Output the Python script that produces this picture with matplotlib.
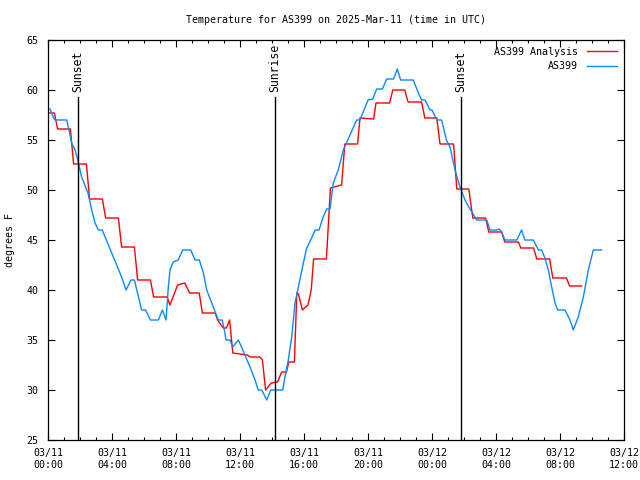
import datetime as dt
import matplotlib
matplotlib.use("Agg")
import matplotlib.pyplot as plt
import matplotlib.dates as mdates

title = "Temperature for AS399 on 2025-Mar-11 (time in UTC)"
ylabel = "degrees F"
start = dt.datetime(2025, 3, 11, 0, 0)
end = dt.datetime(2025, 3, 12, 12, 0)

# hours since 2025-03-11 00:00 UTC
analysis_hours = [0.1, 0.4, 0.6, 1.4, 1.6, 2.4, 2.6, 3.4, 3.6, 4.4, 4.6, 5.4, 5.6, 6.4, 6.6,
                  7.45, 7.62, 8.1, 8.55, 8.85, 9.45, 9.65, 10.45, 10.6, 10.95, 11.15, 11.35,
                  11.55, 12.45, 12.65, 13.25, 13.4, 13.6, 13.95, 14.35, 14.6, 14.9, 15.05,
                  15.4, 15.55, 15.65, 15.9, 16.25, 16.45, 16.6, 17.4, 17.55, 17.65, 18.35,
                  18.55, 19.35, 19.5, 20.35, 20.5, 21.35, 21.55, 22.3, 22.5, 23.35, 23.55,
                  24.3, 24.5, 25.35, 25.55, 26.3, 26.55, 27.35, 27.55, 28.35, 28.55, 29.4,
                  29.55, 30.35, 30.55, 31.35, 31.55, 32.4, 32.6, 33.35]
analysis_temp = [57.7, 57.7, 56.1, 56.1, 52.6, 52.6, 49.1, 49.1, 47.2, 47.2, 44.3, 44.3, 41.0,
                 41.0, 39.3, 39.3, 38.5, 40.5, 40.7, 39.7, 39.7, 37.7, 37.7, 37.0, 36.2, 36.2,
                 37.0, 33.7, 33.5, 33.3, 33.3, 33.0, 30.0, 30.7, 30.8, 31.8, 31.8, 32.8, 32.8,
                 39.7, 39.6, 38.0, 38.5, 40.0, 43.1, 43.1, 47.3, 50.2, 50.5, 54.6, 54.6, 57.2,
                 57.1, 58.7, 58.7, 60.0, 60.0, 58.8, 58.8, 57.2, 57.2, 54.6, 54.6, 50.1, 50.1,
                 47.2, 47.2, 45.8, 45.8, 44.8, 44.8, 44.2, 44.2, 43.1, 43.1, 41.2, 41.2, 40.4,
                 40.4]

obs_hours = [0.125, 0.33, 0.44, 1.17, 1.27, 1.48, 1.69, 1.83, 2.1, 2.5, 2.73, 2.94, 3.15, 3.39,
             3.98, 4.6, 4.875, 5.19, 5.4, 5.85, 6.1, 6.4, 6.9, 7.15, 7.375, 7.52, 7.625, 7.83,
             8.14, 8.42, 8.92, 9.19, 9.46, 9.71, 9.92, 10.33, 10.64, 10.89, 11.06, 11.125,
             11.375, 11.54, 11.9, 12.31, 12.625, 12.94, 13.14, 13.36, 13.67, 13.92, 14.67,
             14.81, 15.02, 15.23, 15.44, 15.65, 15.96, 16.17, 16.48, 16.69, 16.94, 17.2, 17.42,
             17.625, 17.83, 18.14, 18.46, 18.9, 19.29, 19.5, 20.0, 20.3, 20.54, 20.9, 21.17,
             21.6, 21.83, 22.04, 22.83, 23.15, 23.35, 23.56, 23.875, 24.0, 24.3, 24.6, 24.9,
             25.125, 25.44, 25.75, 26.06, 26.375, 26.79, 27.42, 27.625, 28.04, 28.2, 28.35,
             28.56, 29.3, 29.6, 29.8, 30.33, 30.65, 30.85, 31.06, 31.27, 31.48, 31.69, 31.85,
             32.31, 32.625, 32.83, 33.14, 33.46, 33.77, 34.08, 34.6]
obs_temp = [58.1, 57.3, 57.0, 57.0, 56.3, 54.7, 54.0, 53.2, 51.3, 49.7, 48.0, 46.7, 46.0, 46.0,
            43.7, 41.3, 40.0, 41.0, 41.0, 38.0, 38.0, 37.0, 37.0, 38.0, 37.0, 40.3, 42.0, 42.8,
            43.0, 44.0, 44.0, 43.0, 43.0, 41.7, 40.0, 38.3, 37.0, 37.0, 35.7, 35.0, 35.0, 34.3,
            35.0, 33.5, 32.3, 31.0, 30.0, 30.0, 29.0, 30.0, 30.0, 31.3, 33.0, 35.3, 38.7, 40.3,
            42.7, 44.2, 45.2, 46.0, 46.0, 47.3, 48.1, 48.1, 50.7, 52.0, 54.0, 55.6, 57.0, 57.0,
            59.0, 59.1, 60.1, 60.1, 61.1, 61.1, 62.1, 61.0, 61.0, 59.7, 59.0, 59.0, 58.0, 58.0,
            57.0, 57.0, 55.0, 54.3, 52.0, 50.3, 49.0, 48.1, 47.0, 47.0, 46.0, 46.0, 46.1, 45.8,
            45.0, 45.0, 46.0, 45.0, 45.0, 44.0, 44.0, 43.2, 42.0, 40.3, 38.7, 38.0, 38.0, 37.0,
            36.0, 37.3, 39.3, 42.0, 44.0, 44.0]

events = ["Sunset", "Sunrise", "Sunset"]
event_hours = [1.85, 14.2, 25.8]

def to_time(hours):
    return [start + dt.timedelta(hours=h) for h in hours]

plt.rcParams['font.family'] = ['DejaVu Sans Mono']
fs = 7.2

fig = plt.figure(figsize=(6.4, 4.8), dpi=100)
ax = fig.add_axes([48/640, 40/480, 576/640, 400/480])

ax.plot(to_time(analysis_hours), analysis_temp, color='#ff0000', lw=1.0, label='AS399 Analysis')
ax.plot(to_time(obs_hours), obs_temp, color='#0a88ff', lw=1.0, label='AS399')

for name, h in zip(events, event_hours):
    t = start + dt.timedelta(hours=h)
    ax.plot([t, t], [25, 59.3], color='black', lw=1.0)
    ax.text(t, 59.8, name, rotation=90, ha='center', va='bottom', fontsize=8.3)

ax.set_xlim(start, end)
ax.set_ylim(25, 65)
ax.set_yticks(range(25, 66, 5))
ax.xaxis.set_major_locator(mdates.HourLocator(byhour=range(0, 24, 4)))
ax.xaxis.set_minor_locator(mdates.HourLocator())
ax.xaxis.set_major_formatter(mdates.DateFormatter('%m/%d\n%H:%M'))
ax.tick_params(which='both', direction='in', top=True, right=True, labelsize=fs, width=0.8)
ax.tick_params(which='major', length=5)
ax.tick_params(which='minor', length=2.5)
ax.tick_params(axis='x', pad=6)
ax.tick_params(axis='y', pad=7)
for s in ax.spines.values():
    s.set_linewidth(0.9)

ax.set_title(title, fontsize=fs, pad=12)
ax.set_ylabel(ylabel, fontsize=fs)
ax.yaxis.set_label_coords(-0.057, 0.5)

leg = ax.legend(loc='upper right', frameon=False, fontsize=fs, markerfirst=False,
                handlelength=3.0, handletextpad=0.9, labelspacing=0.45,
                borderaxespad=0.3)
for t in leg.get_texts():
    t.set_ha('right')
leg._legend_box.align = 'right'

fig.savefig('out.png', dpi=100)
